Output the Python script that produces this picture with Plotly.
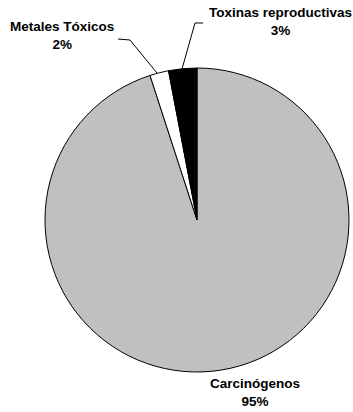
import plotly.graph_objects as go

labels = ["Carcinógenos", "Metales Tóxicos", "Toxinas reproductivas"]
values = [95, 2, 3]
colors = ["#C0C0C0", "#FFFFFF", "#000000"]
pct_text = ["95%", "2%", "3%"]

W, H = 353, 412
cx, cy, r = 197, 220, 152

fig = go.Figure(go.Pie(
    labels=labels, values=values, sort=False, direction="clockwise", rotation=0,
    marker=dict(colors=colors, line=dict(color="#000000", width=1)),
    textinfo="none", hoverinfo="label+percent", showlegend=False,
    domain=dict(x=[(cx - r) / W, (cx + r) / W], y=[1 - (cy + r) / H, 1 - (cy - r) / H]),
))

font = dict(family="Liberation Sans, Arial", size=13.5, color="#000000")
label_pos = [(255, 392), (62, 36), (280, 22)]
for lab, pt, (x, y) in zip(labels, pct_text, label_pos):
    fig.add_annotation(x=x / W, y=1 - y / H, xref="paper", yref="paper",
                       xanchor="center", yanchor="middle",
                       text=f"<b>{lab}</b><br><b>{pt}</b>", showarrow=False,
                       font=font, align="center")

def px(x, y):
    return x / W, 1 - y / H

# leader lines
for pts in [[(118, 39), (130, 40), (157, 73)], [(203, 23), (195, 23), (182, 69)]]:
    path = "M " + " L ".join(f"{px(*p)[0]},{px(*p)[1]}" for p in pts)
    fig.add_shape(type="path", path=path, xref="paper", yref="paper",
                  line=dict(color="#000000", width=1))

fig.update_layout(width=W, height=H, margin=dict(l=0, r=0, t=0, b=0),
                  paper_bgcolor="white", plot_bgcolor="white")
fig.write_html("out.html")
